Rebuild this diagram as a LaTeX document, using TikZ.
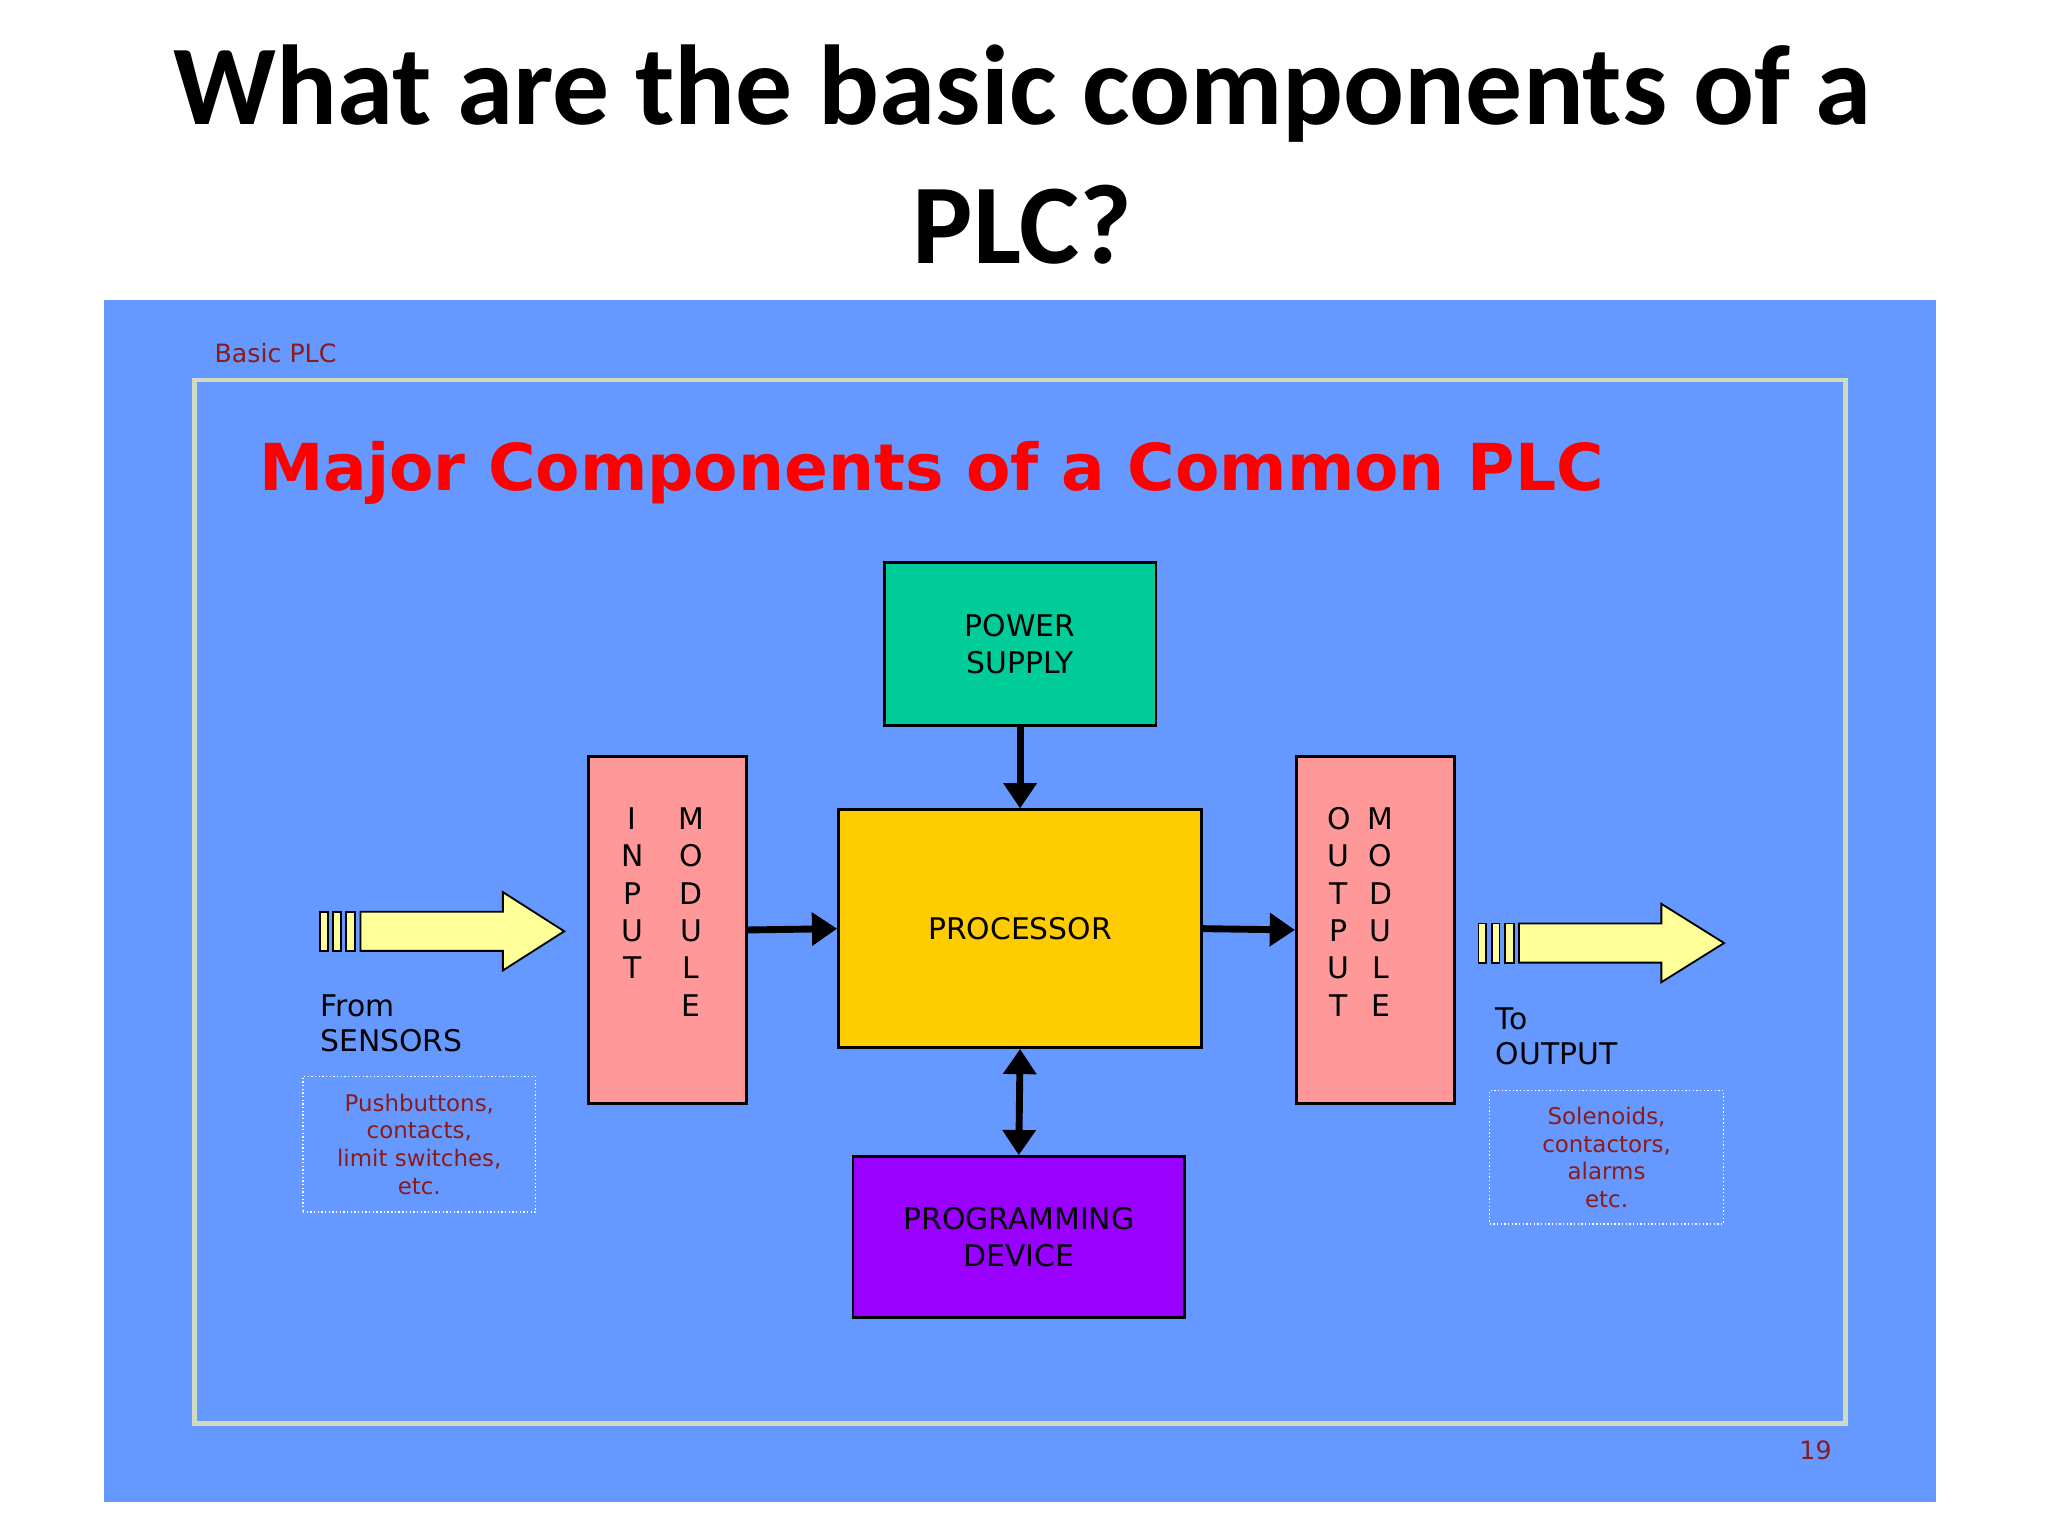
\documentclass[tikz,border=0pt]{standalone}
\usepackage{fontspec}
\setmainfont{DejaVu Sans}
\newfontfamily\titlefont{Carlito}
\usetikzlibrary{arrows.meta,shapes.arrows}
\definecolor{bgblue}{HTML}{6699FF}
\definecolor{frameg}{HTML}{D0DCC0}
\definecolor{dred}{HTML}{8B1A1A}
\definecolor{psg}{HTML}{00CC99}
\definecolor{proc}{HTML}{FFCC00}
\definecolor{prog}{HTML}{9900FF}
\definecolor{modp}{HTML}{FF9999}
\definecolor{yel}{HTML}{FFFF99}
\tikzset{
  blk/.style={draw=black,line width=1.2pt,align=center,font=\fontsize{13}{16}\selectfont},
  conn/.style={line width=3pt,-{Triangle[length=11pt,width=14pt]}},
  dconn/.style={line width=3pt,{Triangle[length=11pt,width=14pt]}-{Triangle[length=11pt,width=14pt]}},
  lbl/.style={font=\fontsize{13}{15}\selectfont,anchor=west,inner sep=0},
  note/.style={draw=white,densely dotted,line width=0.6pt,align=center,text=dred,font=\fontsize{10}{12}\selectfont,inner sep=2pt},
  let/.style={font=\fontsize{13}{15}\selectfont,inner sep=0},
  yarrow/.style={draw=black,fill=yel,line width=0.8pt}
}
\begin{document}
\begin{tikzpicture}[x=0.02cm,y=-0.02cm]
\useasboundingbox (0,0) rectangle (1568,1176);
\fill[white] (0,0) rectangle (1568,1176);
\node[font=\titlefont\bfseries\fontsize{49.5}{52}\selectfont] (t1) at (783,72) {What are the basic components of a};
\node[font=\titlefont\bfseries\fontsize{49.5}{52}\selectfont] (t2) at (783,172) {PLC?};
\fill[bgblue] (80,230) rectangle (1482,1150);
\draw[frameg,line width=2pt] (149,291) rectangle (1413,1090);
\node[font=\fontsize{11}{13}\selectfont,text=dred,anchor=west,inner sep=0] (bp) at (164,270) {Basic PLC};
\node[font=\bfseries\fontsize{28.2}{33}\selectfont,text=red,anchor=west,inner sep=0] (hd) at (198,362) {Major Components of a Common PLC};
\node[blk,fill=psg,minimum width=208*0.02cm,minimum height=125*0.02cm] (ps) at (781,493) {POWER\\SUPPLY};
\node[blk,fill=proc,minimum width=278*0.02cm,minimum height=182*0.02cm] (pr) at (781,711) {PROCESSOR};
\node[blk,fill=prog,minimum width=254*0.02cm,minimum height=123*0.02cm] (pd) at (780,947) {PROGRAMMING\\DEVICE};
\node[blk,fill=modp,minimum width=121*0.02cm,minimum height=266*0.02cm] (im) at (511,712) {};
\node[blk,fill=modp,minimum width=121*0.02cm,minimum height=266*0.02cm] (om) at (1053,712) {};
\foreach \c [count=\i] in {I,N,P,U,T} \node[let] at (484,598+28.6*\i) {\c};
\foreach \c [count=\i] in {M,O,D,U,L,E} \node[let] at (529,598+28.6*\i) {\c};
\foreach \c [count=\i] in {O,U,T,P,U,T} \node[let] at (1025,598+28.6*\i) {\c};
\foreach \c [count=\i] in {M,O,D,U,L,E} \node[let] at (1057,598+28.6*\i) {\c};
\draw[conn] (ps.south) -- (pr.north);
\draw[conn] (im.east) -- (pr.west);
\draw[conn] (pr.east) -- (om.west);
\draw[dconn] (pr.south) -- (pd.north);
% yellow arrows
\draw[yarrow] (245,698) rectangle (251,728);
\draw[yarrow] (255,698) rectangle (261,728);
\draw[yarrow] (265,698) rectangle (272,728);
\draw[yarrow] (276,698) -- (385,698) -- (385,683) -- (432,713) -- (385,743) -- (385,728) -- (276,728) -- cycle;
\draw[yarrow] (1132,707) rectangle (1138,737);
\draw[yarrow] (1142,707) rectangle (1148,737);
\draw[yarrow] (1152,707) rectangle (1159,737);
\draw[yarrow] (1163,707) -- (1272,707) -- (1272,692) -- (1320,722) -- (1272,752) -- (1272,737) -- (1163,737) -- cycle;
\node[lbl] (fs1) at (245,770) {From};
\node[lbl] (fs2) at (245,797) {SENSORS};
\node[lbl] (to1) at (1145,780) {To};
\node[lbl] (to2) at (1145,807) {OUTPUT};
\node[note,minimum width=178*0.02cm,minimum height=104*0.02cm] (n1) at (321,876) {Pushbuttons,\\contacts,\\limit switches,\\etc.};
\node[note,minimum width=179*0.02cm,minimum height=102*0.02cm] (n2) at (1230,886) {Solenoids,\\contactors,\\alarms\\etc.};
\node[font=\fontsize{11}{13}\selectfont,text=dred] (pg) at (1390,1110) {19};
\end{tikzpicture}
\end{document}
